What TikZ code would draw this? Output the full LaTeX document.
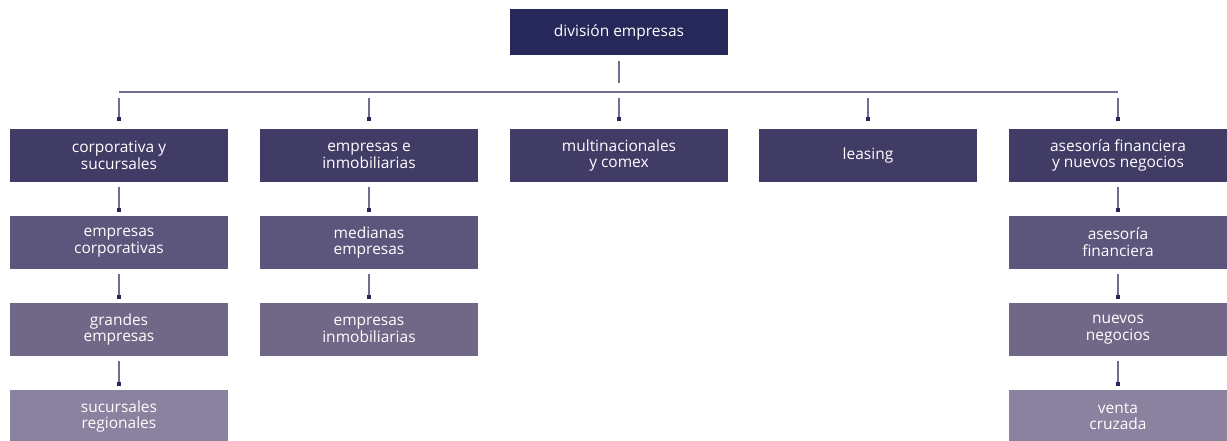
\documentclass[tikz,border=0pt]{standalone}
\usepackage{fontspec}
\setmainfont{Open Sans}
\usetikzlibrary{arrows.meta}

\definecolor{navy}{HTML}{27285A}
\definecolor{lvlone}{HTML}{403C66}
\definecolor{lvltwo}{HTML}{5C557C}
\definecolor{lvlthree}{HTML}{716888}
\definecolor{lvlfour}{HTML}{8A829F}
\definecolor{wire}{HTML}{6E6E92}

\tikzset{
  unit/.style={fill=#1, text=white, minimum width=218pt, minimum height=53pt,
    inner sep=0pt, align=center, font=\fontsize{15.5}{16.8}\selectfont},
  link/.style={draw=wire, line width=1.1pt, -{Square[length=4pt,width=4pt,color=navy]}}
}

\begin{document}
\begin{tikzpicture}[x=1pt,y=-1pt]
  \useasboundingbox (0,0) rectangle (1227,441);

  \node[unit=navy, minimum height=46pt] (top) at (619,32) {división empresas};

  % first level
  \node[unit=lvlone] (corp) at (119,155.5) {corporativa y\\sucursales};
  \node[unit=lvlone] (emin) at (369,155.5) {empresas e\\inmobiliarias};
  \node[unit=lvlone] (mult) at (619,155.5) {multinacionales\\y comex};
  \node[unit=lvlone] (leas) at (868,155.5) {leasing};
  \node[unit=lvlone] (ases) at (1118,155.5) {asesoría financiera\\y nuevos negocios};

  % second level
  \node[unit=lvltwo] (ecorp) at (119,242.5) {empresas\\corporativas};
  \node[unit=lvltwo] (med) at (369,242.5) {medianas\\empresas};
  \node[unit=lvltwo] (afin) at (1118,242.5) {asesoría\\financiera};

  % third level
  \node[unit=lvlthree] (gran) at (119,329.5) {grandes\\empresas};
  \node[unit=lvlthree] (einm) at (369,329.5) {empresas\\inmobiliarias};
  \node[unit=lvlthree] (nuev) at (1118,329.5) {nuevos\\negocios};

  % fourth level
  \node[unit=lvlfour] (suc) at (119,416.5) {sucursales\\regionales};
  \node[unit=lvlfour] (vent) at (1118,416.5) {venta\\cruzada};

  % bus
  \coordinate (bl) at (119,92);
  \coordinate (bm) at (619,92);
  \coordinate (br) at (1118,92);
  \draw[wire, line width=1.1pt] (bl) -- (br);
  \draw[wire, line width=1.1pt] ([yshift=-6pt]top.south) -- ([yshift=9pt]bm);
  \foreach \n in {corp,emin,mult,leas,ases}
    \draw[link, shorten <=6pt] (\n.north |- bl) -- ([yshift=8pt]\n.north);

  \foreach \a/\b in {corp/ecorp,ecorp/gran,gran/suc,emin/med,med/einm,ases/afin,afin/nuev,nuev/vent}
    \draw[link] ([yshift=-5pt]\a.south) -- ([yshift=4pt]\b.north);
\end{tikzpicture}
\end{document}
